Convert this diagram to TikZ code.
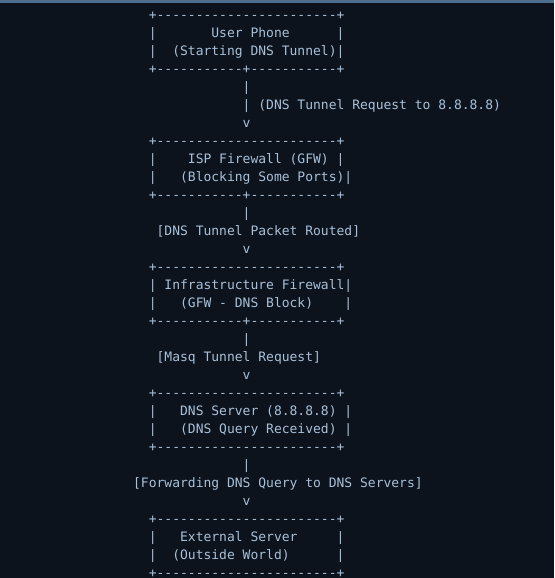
\documentclass[tikz,border=0pt]{standalone}
\usepackage{fontspec}
\setmonofont{DejaVu Sans Mono}
\definecolor{bg}{HTML}{0D131D}
\definecolor{strip}{HTML}{4E6E8E}
\definecolor{fg}{HTML}{A8C0D8}
\newcommand\asc[3]{\node[asc] (r#1c#2) at ({133.15+#2*7.826},{19.4+#1*18}) {#3};}
\begin{document}
\begin{tikzpicture}[x=1pt,y=-1pt,
  asc/.style={anchor=base west, inner sep=0pt, outer sep=0pt, text=fg,
    font=\ttfamily\fontsize{13}{18}\selectfont}]
\fill[bg] (0,0) rectangle (554,578);
\useasboundingbox (0,0) rectangle (554,578);
\fill[strip] (0,0) rectangle (554,3);
% box 1
\asc{0}{2}{+-----------------------+}
\asc{1}{2}{|}\asc{1}{10}{User Phone}\asc{1}{26}{|}
\asc{2}{2}{|}\asc{2}{5}{(Starting DNS Tunnel)|}
\asc{3}{2}{+-----------+-----------+}
\asc{4}{14}{|}
\asc{5}{14}{| (DNS Tunnel Request to 8.8.8.8)}
\asc{6}{14}{v}
% box 2
\asc{7}{2}{+-----------------------+}
\asc{8}{2}{|}\asc{8}{7}{ISP Firewall (GFW) |}
\asc{9}{2}{|}\asc{9}{6}{(Blocking Some Ports)|}
\asc{10}{2}{+-----------+-----------+}
\asc{11}{14}{|}
\asc{12}{3}{[DNS Tunnel Packet Routed]}
\asc{13}{14}{v}
% box 3
\asc{14}{2}{+-----------------------+}
\asc{15}{2}{| Infrastructure Firewall|}
\asc{16}{2}{|}\asc{16}{6}{(GFW - DNS Block)}\asc{16}{27}{|}
\asc{17}{2}{+-----------+-----------+}
\asc{18}{14}{|}
\asc{19}{3}{[Masq Tunnel Request]}
\asc{20}{14}{v}
% box 4
\asc{21}{2}{+-----------------------+}
\asc{22}{2}{|}\asc{22}{6}{DNS Server (8.8.8.8) |}
\asc{23}{2}{|}\asc{23}{6}{(DNS Query Received) |}
\asc{24}{2}{+-----------------------+}
\asc{25}{14}{|}
\asc{26}{0}{[Forwarding DNS Query to DNS Servers]}
\asc{27}{14}{v}
% box 5
\asc{28}{2}{+-----------------------+}
\asc{29}{2}{|}\asc{29}{6}{External Server}\asc{29}{26}{|}
\asc{30}{2}{|}\asc{30}{5}{(Outside World)}\asc{30}{26}{|}
\asc{31}{2}{+-----------------------+}
\end{tikzpicture}
\end{document}
